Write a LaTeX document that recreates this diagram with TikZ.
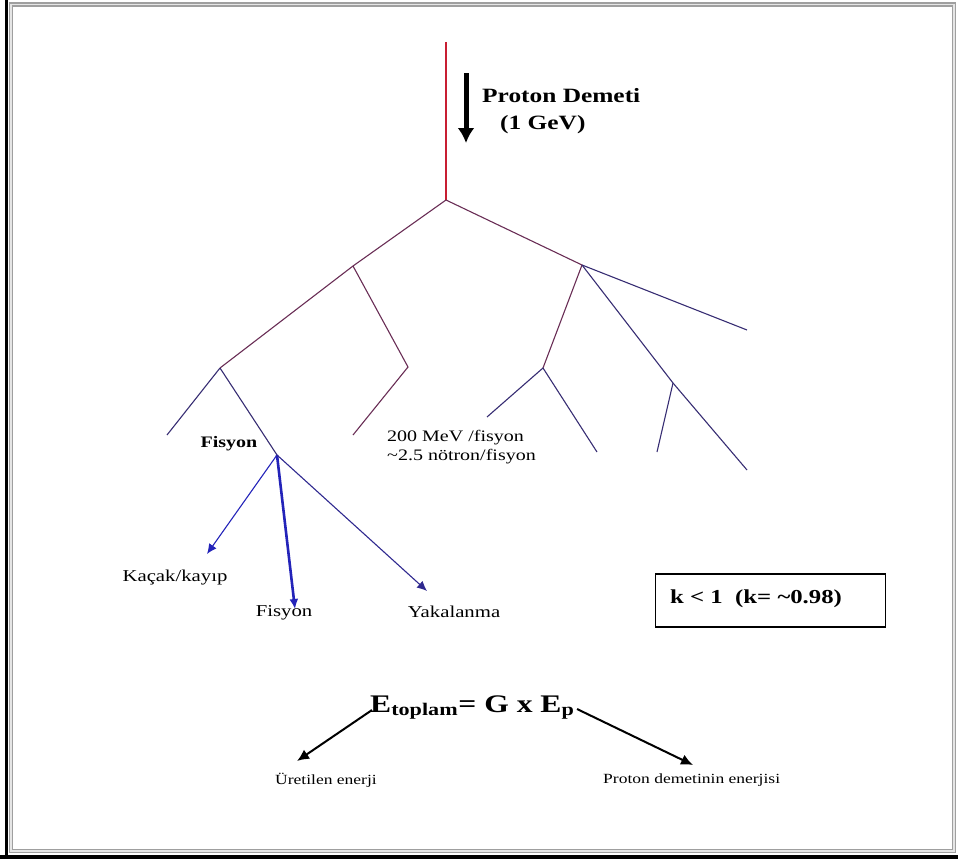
\documentclass[tikz,border=0pt]{standalone}
\usepackage{fontspec}
\setmainfont{Liberation Serif}
\usepackage{graphicx}
\usepackage{tikz}
\usetikzlibrary{arrows.meta,positioning}
\definecolor{beamred}{RGB}{200,30,50}
\definecolor{treemauve}{RGB}{105,45,85}
\definecolor{treeblue}{RGB}{55,45,115}
\definecolor{arrowblue}{RGB}{35,35,185}
% Slide text is drawn a little wide.
\newcommand{\wide}[1]{\scalebox{1.25}[1]{#1}}

\begin{document}
\begin{tikzpicture}[x=1pt,y=-1pt,>=Latex,
    branch/.style={treemauve,line width=1.1pt},
    branchb/.style={treeblue,line width=1.1pt},
    label/.style={inner sep=0pt,font=\fontsize{16.6}{19}\selectfont},
    fate/.style={arrowblue,line width=1.1pt,-{Latex[length=10pt,width=9pt]}},
    gainarrow/.style={line width=2pt,-{Latex[length=12pt,width=11pt]}}]
  \useasboundingbox (0,0) rectangle (958,859);
  % Outer frame of the slide.
  \draw[gray!75,line width=1.4pt,double=gray!20,double distance=1.6pt] (11,4.5) rectangle (954,851);
  \draw[black,line width=3pt] (6,0) -- (6,859);
  \draw[black,line width=4pt] (0,857) -- (958,857);

  % Tree points, pixel coordinates.
  \coordinate (top) at (446,42);
  \coordinate (root) at (446,200);
  \coordinate (l) at (353,266);
  \coordinate (r) at (582,265);
  \coordinate (ll) at (220,368);
  \coordinate (lr) at (408,367);
  \coordinate (lrend) at (353,435);
  \coordinate (lll) at (167,435);
  \coordinate (fis) at (277,455);
  \coordinate (rfar) at (747,330);
  \coordinate (rl) at (543,368);
  \coordinate (rll) at (487,417);
  \coordinate (rlr) at (597,452);
  \coordinate (rr) at (673,383);
  \coordinate (rrl) at (657,452);
  \coordinate (rrr) at (747,470);

  % Incoming proton beam.
  \draw[beamred,line width=2.5pt] (top) -- (root);
  \coordinate (beamA) at (466,73);
  \coordinate (beamB) at (466,143);
  \draw[line width=5pt,-{Latex[length=15pt,width=17pt]}] (beamA) -- (beamB);
  \node[anchor=west,inner sep=0pt,font=\fontsize{20.3}{23}\selectfont\bfseries] (beam) at (482,96) {\wide{Proton Demeti}};
  \node[anchor=west,inner sep=0pt,font=\fontsize{20.3}{23}\selectfont\bfseries] (gev) at (500,125) {\wide{(1 GeV)}};

  % Cascade branches.
  \draw[branch] (root) -- (l);
  \draw[branch] (root) -- (r);
  \draw[branch] (l) -- (ll);
  \draw[branch] (l) -- (lr) -- (lrend);
  \draw[branchb] (ll) -- (lll);
  \draw[branchb] (ll) -- (fis);
  \draw[branchb] (r) -- (rfar);
  \draw[branch] (r) -- (rl);
  \draw[branchb] (rl) -- (rll);
  \draw[branchb] (rl) -- (rlr);
  \draw[branchb] (r) -- (rr) -- (rrr);
  \draw[branchb] (rr) -- (rrl);

  \node[label,anchor=west,font=\fontsize{16}{19}\selectfont] (yield) at (387,447)
    {\wide{\begin{tabular}{@{}l@{}}200 MeV /fisyon\\[-0.5pt] \textasciitilde2.5 nötron/fisyon\end{tabular}}};
  \node[label,font=\fontsize{16}{19}\selectfont\bfseries] (fislab) at (229,444) {\wide{Fisyon}};

  % Fates of one fission neutron.
  \node[label] (leak) at (175,578) {\wide{Kaçak/kayıp}};
  \node[label] (fis2) at (284,613) {\wide{Fisyon}};
  \node[label] (capt) at (454,612) {\wide{Yakalanma}};
  \coordinate (leaktip) at (207,554);
  \coordinate (fistip) at (295,609);
  \coordinate (capttip) at (427,591);
  \draw[fate] (fis) -- (leaktip);
  \draw[fate,line width=2.6pt] (fis) -- (fistip);
  \draw[fate,treeblue!60!arrowblue] (fis) -- (capttip);

  % Multiplication factor.
  \node[draw,line width=1.2pt,minimum width=230pt,minimum height=53pt,anchor=west] (kbox) at (655,600.5) {};
  \node[anchor=west,inner sep=0pt,font=\fontsize{19.8}{23}\selectfont\bfseries] (ktext) at (670,599)
    {\wide{k < 1\ \ (k= \textasciitilde0.98)}};

  % Energy gain.
  \node[anchor=base west,inner sep=0pt,font=\fontsize{25.3}{30}\selectfont\bfseries] (gain) at (370,712)
    {\wide{E\textsubscript{toplam}= G x E\textsubscript{p}}};
  \node[label,anchor=west,font=\fontsize{14}{16}\selectfont] (eout) at (275,780) {\wide{Üretilen enerji}};
  \node[label,anchor=west,font=\fontsize{14}{16}\selectfont] (ebeam) at (603,780) {\wide{Proton demetinin enerjisi}};
  \coordinate (g1) at (372,710);
  \coordinate (g2) at (297,761);
  \coordinate (g3) at (577,709);
  \coordinate (g4) at (693,765);
  \draw[gainarrow] (g1) -- (g2);
  \draw[gainarrow] (g3) -- (g4);
\end{tikzpicture}
\end{document}
